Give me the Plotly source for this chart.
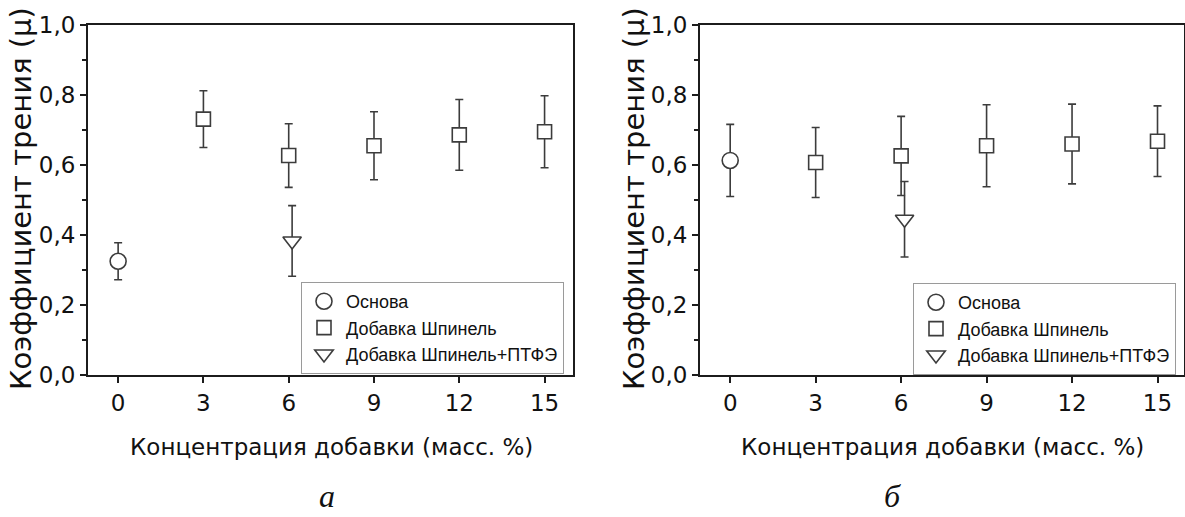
import plotly.graph_objects as go

# Additive concentration, mass %
conc_base = [0]
conc_spinel = [3, 6, 9, 12, 15]
conc_ptfe = [6]

# Panel (а): friction coefficient and its spread
a_base = [0.325]
a_base_err = [0.053]
a_spinel = [0.731, 0.627, 0.655, 0.686, 0.695]
a_spinel_err = [0.081, 0.091, 0.097, 0.101, 0.103]
a_ptfe = [0.383]
a_ptfe_err = [0.101]

# Panel (б)
b_base = [0.613]
b_base_err = [0.103]
b_spinel = [0.607, 0.626, 0.655, 0.660, 0.668]
b_spinel_err = [0.100, 0.113, 0.117, 0.114, 0.101]
b_ptfe = [0.445]
b_ptfe_err = [0.108]

y_ticks = [0.0, 0.2, 0.4, 0.6, 0.8, 1.0]
y_ticktext = ["0,0", "0,2", "0,4", "0,6", "0,8", "1,0"]
x_ticks = [0, 3, 6, 9, 12, 15]

series_names = ["Основа", "Добавка Шпинель", "Добавка Шпинель+ПТФЭ"]

EDGE = "#3c3c3c"
AXIS = "#1c1c1c"
DODGE = 0.12  # small horizontal shift so the triangle does not hide the square

W, H = 1185, 517


def px_x(p):
    return p / W


def px_y(p):
    return 1 - p / H


fig = go.Figure()


def add_panel(xa, ya, legend, base, base_err, spinel, spinel_err, ptfe, ptfe_err):
    common = dict(mode="markers", xaxis=xa, yaxis=ya, legend=legend)
    err_style = dict(type="data", visible=True, color=EDGE, thickness=1.6, width=4)
    fig.add_trace(go.Scatter(
        x=conc_base, y=base, name=series_names[0],
        error_y=dict(array=base_err, **err_style),
        marker=dict(symbol="circle", size=16, color="white",
                    line=dict(color=EDGE, width=1.6)),
        **common))
    fig.add_trace(go.Scatter(
        x=conc_spinel, y=spinel, name=series_names[1],
        error_y=dict(array=spinel_err, **err_style),
        marker=dict(symbol="square", size=14, color="white",
                    line=dict(color=EDGE, width=1.6)),
        **common))
    fig.add_trace(go.Scatter(
        x=[c + DODGE for c in conc_ptfe], y=ptfe, name=series_names[2],
        error_y=dict(array=ptfe_err, **err_style),
        marker=dict(symbol="triangle-down", size=16, color="white",
                    line=dict(color=EDGE, width=1.6)),
        **common))


add_panel("x", "y", "legend", a_base, a_base_err, a_spinel, a_spinel_err, a_ptfe, a_ptfe_err)
add_panel("x2", "y2", "legend2", b_base, b_base_err, b_spinel, b_spinel_err, b_ptfe, b_ptfe_err)

SANS = "DejaVu Sans, Liberation Sans, Arial, sans-serif"
tick_font = dict(family=SANS, size=23, color="#111")

xaxis_common = dict(
    tickvals=x_ticks, ticks="outside", ticklen=6, tickwidth=2, tickcolor=AXIS,
    showline=True, linewidth=2, linecolor=AXIS, mirror=True, automargin=False,
    showgrid=False, zeroline=False, tickfont=tick_font,
)
yaxis_common = dict(
    range=[0, 1], tickvals=y_ticks, ticktext=y_ticktext,
    ticks="outside", ticklen=6, tickwidth=2, tickcolor=AXIS,
    minor=dict(dtick=0.1, ticks="outside", ticklen=4, tickwidth=2, tickcolor=AXIS),
    showline=True, linewidth=2, linecolor=AXIS, mirror=True, automargin=False,
    showgrid=False, zeroline=False, tickfont=tick_font,
)

y_dom = [px_y(375), px_y(25)]

legend_common = dict(
    font=dict(family="Liberation Sans, Arial, sans-serif", size=18, color="#111"),
    bordercolor="#9a9a9a", borderwidth=1, bgcolor="white",
    xanchor="left", yanchor="top", itemwidth=34, tracegroupgap=0,
)

fig.update_layout(
    width=W, height=H,
    margin=dict(l=0, r=0, t=0, b=0),
    paper_bgcolor="white", plot_bgcolor="white",
    showlegend=True,
    xaxis=dict(domain=[px_x(88), px_x(573)], range=[-1.06, 16.0], anchor="y", **xaxis_common),
    yaxis=dict(domain=y_dom, anchor="x", **yaxis_common),
    xaxis2=dict(domain=[px_x(700), px_x(1184)], range=[-1.06, 15.93], anchor="y2", **xaxis_common),
    yaxis2=dict(domain=y_dom, anchor="x2", **yaxis_common),
    legend=dict(x=px_x(301), y=px_y(282), **legend_common),
    legend2=dict(x=px_x(913), y=px_y(283), **legend_common),
)

xtitle_font = dict(family=SANS, size=23, color="#111")
ytitle_font = dict(family=SANS, size=29, color="#111")
label_font = dict(family="Liberation Serif, Times New Roman, serif", size=32, color="#111")

annotations = []
for xc_title, xc_y, xc_label, label in [(332, 21, 327, "а"), (942, 634, 892, "б")]:
    annotations.append(dict(
        text="Концентрация добавки (масс. %)", xref="paper", yref="paper",
        x=px_x(xc_title), y=px_y(447), xanchor="center", yanchor="middle",
        showarrow=False, font=xtitle_font))
    annotations.append(dict(
        text="Коэффициент трения (μ)", xref="paper", yref="paper",
        x=px_x(xc_y), y=px_y(199), xanchor="center", yanchor="middle",
        textangle=-90, showarrow=False, font=ytitle_font))
    annotations.append(dict(
        text=f"<i>{label}</i>", xref="paper", yref="paper",
        x=px_x(xc_label), y=px_y(516), xanchor="center", yanchor="bottom",
        showarrow=False, font=label_font))
fig.update_layout(annotations=annotations)

fig.write_html("out.html")
